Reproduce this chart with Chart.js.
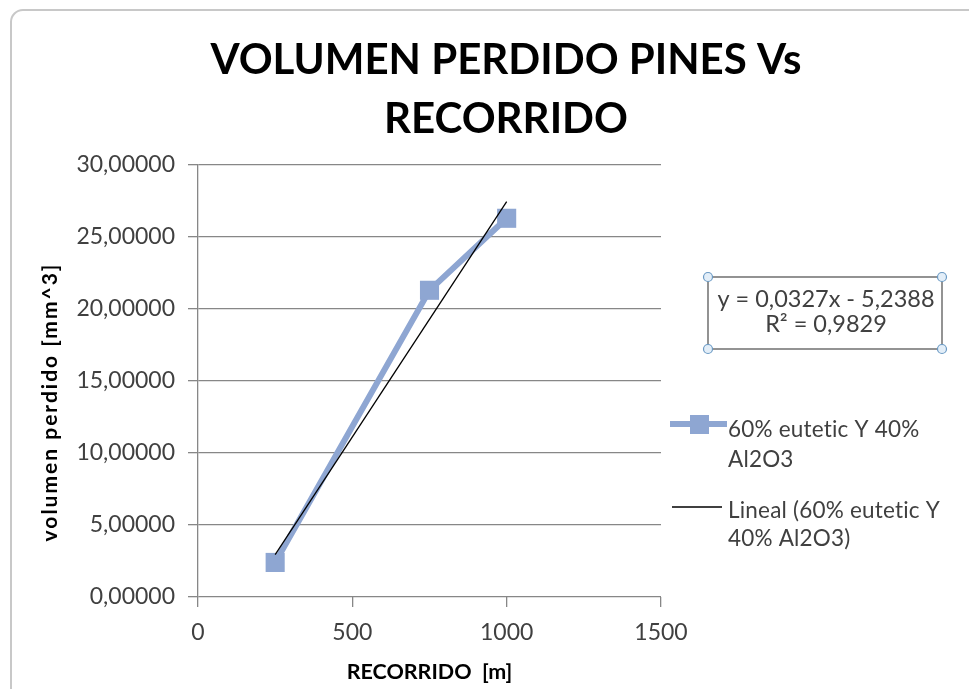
<!DOCTYPE html>
<html><head><meta charset="utf-8">
<script src="https://cdn.jsdelivr.net/npm/chart.js@4.4.1/dist/chart.umd.min.js"></script>
<style>body{margin:0;background:#fff}#wrap{position:relative;width:969px;height:689px}</style>
</head><body><div id="wrap"><canvas id="c"></canvas></div>
<script>
// datos
const recorrido = [250, 750, 1000];
const volumen = [2.4, 21.3, 26.3];
const pendiente = 0.0327;
const intercepto = -5.2388;
const xTicks = [0, 500, 1000, 1500];
const yTicks = [0, 5, 10, 15, 20, 25, 30];
const titulo = ['VOLUMEN PERDIDO PINES Vs', 'RECORRIDO'];
const ejeY = 'volumen perdido [mm^3]';
const ejeX = 'RECORRIDO  [m]';
const serieNombre = ['60% eutetic Y 40%', 'Al2O3'];
const tendenciaNombre = ['Lineal (60% eutetic Y', '40% Al2O3)'];
const ecuacion = ['y = 0,0327x - 5,2388', 'R² = 0,9829'];

const FONT = 'Lato';
const azul = '#8EA6D2';
const gris = '#878787';
const texto = '#404040';

const xMin = Math.min(...recorrido), xMax = Math.max(...recorrido);
const tendencia = [xMin, xMax].map(x => ({ x: x, y: pendiente * x + intercepto }));

const extras = {
  id: 'extras',
  afterDraw(chart) {
    const c = chart.ctx;
    const area = chart.chartArea;
    c.save();
    // marco
    c.strokeStyle = '#c8c8c8';
    c.lineWidth = 2;
    c.beginPath();
    c.moveTo(11, 700);
    c.lineTo(11, 22);
    c.arcTo(11, 10, 23, 10, 12);
    c.lineTo(975, 10);
    c.stroke();

    // titulo
    c.fillStyle = '#000';
    c.textAlign = 'center';
    c.textBaseline = 'middle';
    c.font = 'bold 42px ' + FONT;
    c.fillText(titulo[0], 506, 60);
    c.fillText(titulo[1], 506, 119);

    // titulo eje y
    c.save();
    c.translate(50, area.top + 237);
    c.rotate(-Math.PI / 2);
    c.font = 'bold 21px ' + FONT;
    c.letterSpacing = '2px';
    c.fillText(ejeY, 0, 0);
    c.restore();

    // leyenda
    c.textAlign = 'left';
    c.font = '22.5px ' + FONT;
    c.letterSpacing = '0.2px';
    c.strokeStyle = azul;
    c.lineWidth = 6;
    c.beginPath();
    c.moveTo(670, 424);
    c.lineTo(727, 424);
    c.stroke();
    c.fillStyle = azul;
    c.fillRect(690, 415, 19, 19);
    c.fillStyle = texto;
    c.fillText(serieNombre[0], 728, 430);
    c.fillText(serieNombre[1], 728, 460);
    c.strokeStyle = '#000';
    c.lineWidth = 1.3;
    c.beginPath();
    c.moveTo(672, 507);
    c.lineTo(722, 507);
    c.stroke();
    c.fillText(tendenciaNombre[0], 728, 511);
    c.fillText(tendenciaNombre[1], 728, 539);

    // ecuacion
    c.strokeStyle = '#595959';
    c.lineWidth = 1.3;
    c.strokeRect(708, 277, 234, 72);
    c.textAlign = 'center';
    c.letterSpacing = '0px';
    c.font = '23.5px ' + FONT;
    c.fillText(ecuacion[0], 826, 299);
    c.fillText(ecuacion[1], 826, 324);
    [[708, 277], [942, 277], [708, 349], [942, 349]].forEach(p => {
      c.beginPath();
      c.arc(p[0], p[1], 4.5, 0, Math.PI * 2);
      c.fillStyle = '#e3eef8';
      c.fill();
      c.strokeStyle = '#6b9ac4';
      c.lineWidth = 1.2;
      c.stroke();
    });
    c.restore();
  }
};

new Chart(document.getElementById('c'), {
  type: 'scatter',
  data: {
    datasets: [
      {
        label: tendenciaNombre.join(' '),
        data: tendencia,
        showLine: true,
        borderColor: '#000',
        borderWidth: 1.3,
        pointRadius: 0,
        order: 0
      },
      {
        label: serieNombre.join(' '),
        data: recorrido.map((x, i) => ({ x: x, y: volumen[i] })),
        showLine: true,
        borderColor: azul,
        backgroundColor: azul,
        borderWidth: 6,
        pointStyle: 'rect',
        pointRadius: 13.5,
        pointBorderWidth: 0,
        order: 1
      }
    ]
  },
  options: {
    responsive: true,
    maintainAspectRatio: false,
    animation: false,
    layout: { padding: { left: 0, right: 308, top: 165, bottom: 0 } },
    plugins: {
      legend: { display: false },
      tooltip: { enabled: false }
    },
    scales: {
      x: {
        type: 'linear',
        min: 0,
        max: 1500,
        afterBuildTicks: s => { s.ticks = xTicks.map(v => ({ value: v })); },
        afterFit: s => { s.height = 92; },
        grid: { drawOnChartArea: false, drawTicks: true, tickLength: 10, color: gris, lineWidth: 1.3 },
        border: { display: false },
        ticks: { color: texto, font: { family: FONT, size: 23 }, padding: 12, callback: v => String(v) },
        title: { display: true, text: ejeX, color: '#000', font: { family: FONT, size: 21.5, weight: 'bold' }, padding: { top: 2 } }
      },
      y: {
        min: 0,
        max: 30,
        afterBuildTicks: s => { s.ticks = yTicks.map(v => ({ value: v })); },
        afterFit: s => { s.width = 198; },
        grid: { color: gris, lineWidth: 1.3, tickLength: 10 },
        border: { color: gris, width: 1.3 },
        ticks: { color: texto, font: { family: FONT, size: 23 }, padding: 13, callback: v => v.toFixed(5).replace('.', ',') }
      }
    }
  },
  plugins: [extras]
});
</script>
</body></html>
